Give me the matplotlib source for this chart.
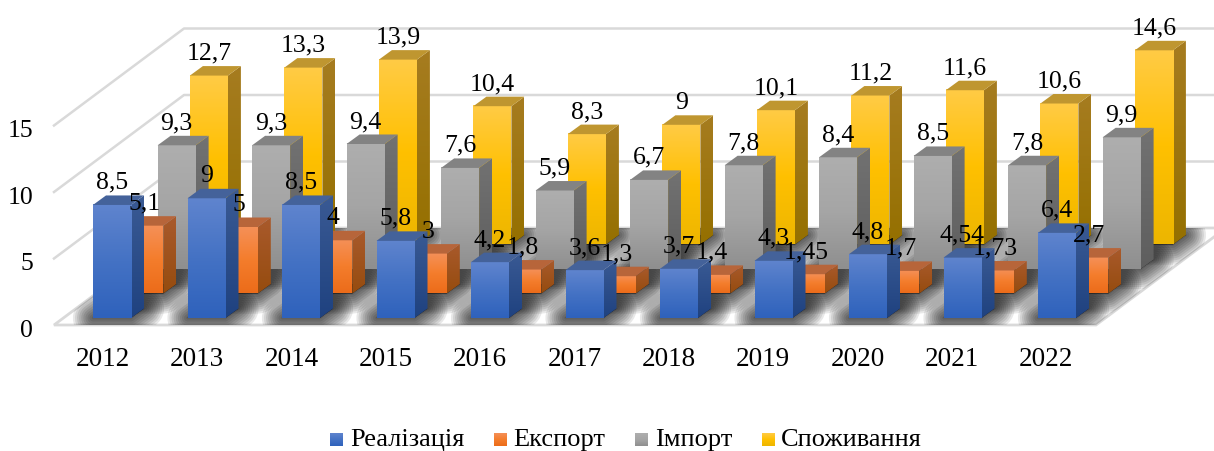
import numpy as np
import matplotlib
matplotlib.use('Agg')
import matplotlib.pyplot as plt
from matplotlib.colors import LinearSegmentedColormap
from matplotlib.patches import Polygon

plt.rcParams['font.family'] = ['Liberation Serif', 'DejaVu Serif']

years = [2012, 2013, 2014, 2015, 2016, 2017, 2018, 2019, 2020, 2021, 2022]
realization = [8.5, 9, 8.5, 5.8, 4.2, 3.6, 3.7, 4.3, 4.8, 4.54, 6.4]
export = [5.1, 5, 4, 3, 1.8, 1.3, 1.4, 1.45, 1.7, 1.73, 2.7]
imports = [9.3, 9.3, 9.4, 7.6, 5.9, 6.7, 7.8, 8.4, 8.5, 7.8, 9.9]
consumption = [12.7, 13.3, 13.9, 10.4, 8.3, 9, 10.1, 11.2, 11.6, 10.6, 14.6]
series_names = ['Реалізація', 'Експорт', 'Імпорт', 'Споживання']
y_ticks = [0, 5, 10, 15]

# front, side and top colours per series
styles = [
    (['#5F84CE', '#4472C4', '#2F62BC'], ['#3A5A94', '#1F4280'], '#44629A'),
    (['#F59058', '#F47D2C', '#EC6C1A'], ['#A95A2C', '#964C0F'], '#B7653A'),
    (['#AEAEAE', '#A5A5A5', '#8F8F8F'], ['#727272', '#5E5E5E'], '#838383'),
    (['#FFCB45', '#FFC000', '#EDB600'], ['#A67C20', '#957000'], '#BF9630'),
]

W, H = 1214, 452
PX_X, PX_Y = 94.5, 13.3   # pixels per category / per value
X0, Y0 = 112, 319         # pixel of the first blue bar centre, front baseline

BAR_W = 38 / PX_X
SIDE_X, SIDE_Y = 13 / PX_X, 9.5 / PX_Y
STEP_X, STEP_Y = 32.3 / PX_X, 24.5 / PX_Y


def dx(px):
    return (px - X0) / PX_X


def dy(py):
    return (Y0 - py) / PX_Y


fig = plt.figure(figsize=(W / 100, H / 100), dpi=100)
ax = fig.add_axes([0, 0, 1, 1])


def gradient(colors, extent, clip=None, zorder=3):
    cmap = LinearSegmentedColormap.from_list('g', colors)
    arr = np.linspace(0, 1, 64).reshape(-1, 1)
    im = ax.imshow(arr, cmap=cmap, extent=extent, aspect='auto', origin='upper',
                   interpolation='bilinear', zorder=zorder)
    if clip is not None:
        patch = Polygon(clip, closed=True, transform=ax.transData, fc='none', ec='none')
        ax.add_patch(patch)
        im.set_clip_path(patch)
    return im


def draw_bar(i, s, v, style):
    front, side, top = style
    xl = i - BAR_W / 2 + s * STEP_X
    xr = xl + BAR_W
    b = s * STEP_Y
    z = 10 - s + i * 0.01
    gradient(front, (xl, xr, b, b + v), zorder=z + 0.002)
    side_poly = [(xr, b), (xr + SIDE_X, b + SIDE_Y), (xr + SIDE_X, b + v + SIDE_Y), (xr, b + v)]
    gradient(side, (xr, xr + SIDE_X, b, b + v + SIDE_Y), clip=side_poly, zorder=z + 0.001)
    top_poly = [(xl, b + v), (xr, b + v), (xr + SIDE_X, b + v + SIDE_Y), (xl + SIDE_X, b + v + SIDE_Y)]
    ax.add_patch(Polygon(top_poly, closed=True, fc=top, ec='none', zorder=z + 0.003))


def draw_shadow(i, s, floor):
    xl = i - BAR_W / 2 + s * STEP_X
    xr = xl + BAR_W
    b = s * STEP_Y
    foot = [(xl, b), (xr, b), (xr + SIDE_X, b + SIDE_Y), (xl + SIDE_X, b + SIDE_Y)]
    for lw in range(2, 30, 3):
        p = Polygon(foot, closed=True, fc='black', ec='black', lw=lw, alpha=0.09,
                    joinstyle='round', zorder=2)
        ax.add_patch(p)
        p.set_clip_path(floor)


# floor and walls
floor_px = [(54, 326), (1096, 326), (1226, 229), (184, 229)]
floor_poly = [(dx(a), dy(c)) for a, c in floor_px]
floor = Polygon(floor_poly, closed=True, fc='white', ec='#D9D9D9', lw=2, zorder=1)
ax.add_patch(floor)
for t in y_ticks[1:]:
    rise = t * 13.3
    ax.plot([dx(54), dx(184), dx(1214)],
            [dy(326 - rise), dy(229 - rise), dy(229 - rise)],
            color='#D9D9D9', lw=1.8, zorder=1)

data = [realization, export, imports, consumption]
for s, values in enumerate(data):
    for i in range(len(years)):
        draw_shadow(i, s, floor)
for s, values in enumerate(data):
    for i, v in enumerate(values):
        draw_bar(i, s, v, styles[s])

# value labels sit above the front face of each bar
for s, values in enumerate(data):
    for i, v in enumerate(values):
        ax.text(i + s * STEP_X, s * STEP_Y + v + 23 / PX_Y, f'{v:g}'.replace('.', ','),
                ha='center', va='center', fontsize=18.5, color='black', zorder=20)

for t in y_ticks:
    ax.text(dx(33), dy(331 - t * 13.3), str(t), ha='right', va='center', fontsize=18.5, zorder=20)

for i, y in enumerate(years):
    ax.text(dx(103 + i * 94.3), dy(360), str(y), ha='center', va='center', fontsize=19.5, zorder=20)

# legend
legend_marks = [330, 494, 635, 762]
legend_texts = [350, 513, 655, 781]
for name, mx, tx, style in zip(series_names, legend_marks, legend_texts, styles):
    gradient(style[0], (dx(mx), dx(mx + 13), dy(447), dy(434)), zorder=20)
    ax.text(dx(tx), dy(440), name, ha='left', va='center', fontsize=19, zorder=20)

ax.set_xlim(dx(0), dx(W))
ax.set_ylim(dy(H), dy(0))
ax.axis('off')
fig.savefig('out.png', dpi=100)
